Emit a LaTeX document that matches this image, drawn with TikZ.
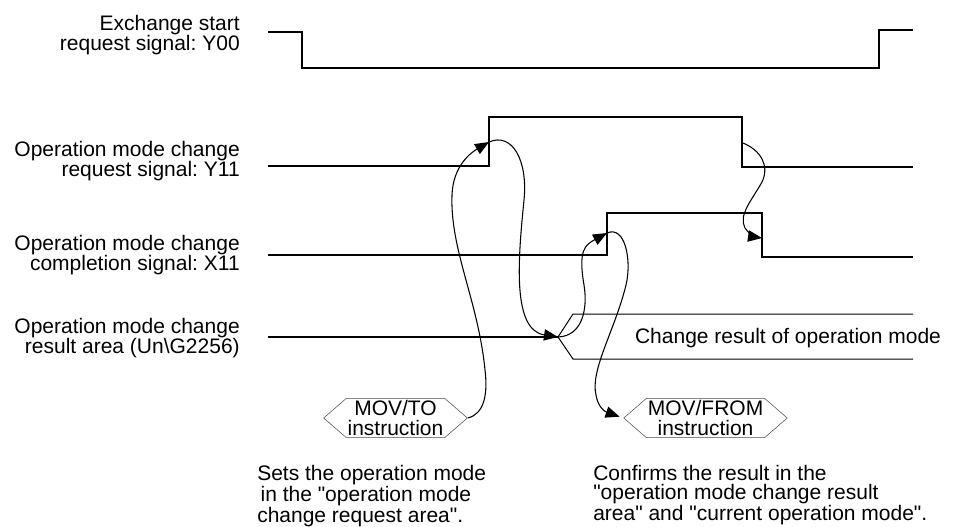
\documentclass[tikz,border=0pt]{standalone}
\usepackage{fontspec}
\setmainfont{Liberation Sans}[Ligatures=TeXOff]
\usetikzlibrary{arrows.meta,shapes.symbols}
\frenchspacing

\begin{document}
\begin{tikzpicture}[x=0.75pt,y=-0.75pt,
    sig/.style={line width=0.8pt},
    lbl/.style={font=\fontsize{15.75}{15}\selectfont, align=right, anchor=east, inner sep=0pt},
    note/.style={font=\fontsize{15.75}{14.2}\selectfont, align=left, anchor=north west, inner sep=0pt},
    hexbox/.style={shape=signal, signal to=west and east, signal pointer angle=82,
      draw=black!70, line width=0.4pt, inner xsep=1pt, inner ysep=0pt, minimum height=29.5pt,
      font=\fontsize{15.75}{14.4}\selectfont, align=center},
    flow/.style={line width=0.8pt, -{Triangle[length=10.5pt,width=8.5pt]}}]
        \useasboundingbox (0,0) rectangle (955,526);

        % Signal names
        \node[lbl] (lblY00) at (240,35) {Exchange start\\request signal: Y00};
        \node[lbl] (lblY11) at (240,161) {Operation mode change\\request signal: Y11};
        \node[lbl] (lblX11) at (240,255) {Operation mode change\\completion signal: X11};
        \node[lbl] (lblRes) at (240,338) {Operation mode change\\result area (Un\textbackslash G2256)};

        % Waveforms
        \draw[sig] (268,32) -- (302,32) -- (302,68) -- (879,68) -- (879,30) -- (913,30);
        \draw[sig] (268,166) -- (489,166) -- (489,117) -- (742,117) -- (742,167) -- (913,167);
        \draw[sig] (268,255) -- (607,255) -- (607,213) -- (762,213) -- (762,257) -- (913,257);

        % Result area (bus)
        \coordinate (ressplit) at (558,337);
        \draw[sig] (268,337) -- (ressplit);
        \draw[line width=0.75pt] (ressplit) -- (573,314) -- (913,314);
        \draw[line width=0.75pt] (ressplit) -- (573,359) -- (913,359);
        \node[font=\fontsize{15.75}{15}\selectfont, inner sep=0pt] (reslabel) at (788,338) {Change result of operation mode};

        % Edges the arrows meet
        \coordinate (y11rise) at (489,142);
        \coordinate (y11fall) at (743,143);
        \coordinate (x11rise) at (607,233);
        \coordinate (x11fall) at (762,238);

        % Instructions
        \node[hexbox] (movto) at (395.5,418) {MOV/TO\\instruction};
        \node[hexbox] (movfrom) at (705.5,418) {MOV/FROM\\instruction};
        \node[note] (setsnote) at (257,465) {Sets the operation mode\\\hspace{2.5pt}in the "operation mode\\change request area".};
        \node[note] (confnote) at (593,465) {Confirms the result in the\\"operation mode change result\\area" and "current operation mode".};

        % Flow of the handshake
        \draw[flow] (movto.east) .. controls (484,414) and (488,395) .. (485,370)
          .. controls (478,300) and (450,250) .. (452,195)
          .. controls (453,165) and (472,152) .. (y11rise);
        \draw[flow] (y11rise) .. controls (512,132) and (528,160) .. (524,200)
          .. controls (518,260) and (512,330) .. (ressplit);
        \draw[flow] (ressplit) .. controls (582,336) and (588,310) .. (584,285)
          .. controls (578,250) and (585,245) .. (x11rise);
        \draw[flow, shorten >=3pt] (x11rise) .. controls (625,225) and (632,260) .. (626,285)
          .. controls (615,330) and (590,370) .. (596,395)
          .. controls (598,408) and (606,412) .. (movfrom.west);
        \draw[flow] (y11fall) .. controls (760,150) and (770,165) .. (762,182)
          .. controls (752,200) and (738,215) .. (745,228)
          .. controls (750,235) and (755,237) .. (x11fall);
\end{tikzpicture}
\end{document}
